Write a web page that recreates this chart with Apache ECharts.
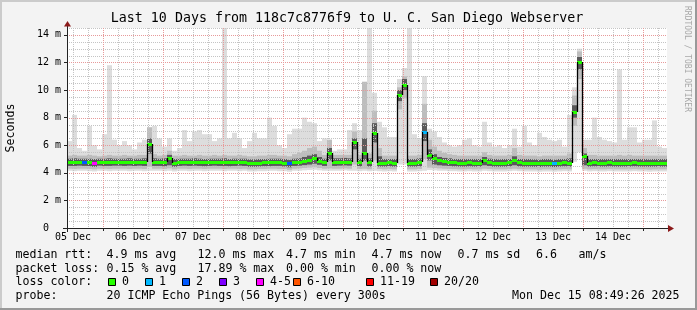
<!DOCTYPE html>
<html><head><meta charset="utf-8">
<script src="https://cdn.jsdelivr.net/npm/echarts@6/dist/echarts.min.js"></script>
<style>html,body{margin:0;padding:0;background:#f3f3f3}#c{width:697px;height:310px}</style>
</head><body><div id="c"></div>
<script>
// ---------------- data ----------------
const SLOT_HOURS = 2;            // each value covers 2 hours; 120 slots = 10 days
const FIRST_MIDNIGHT = 14.4;     // hours after the start of the plot
const dayLabels = ['05 Dec','06 Dec','07 Dec','08 Dec','09 Dec','10 Dec','11 Dec','12 Dec','13 Dec','14 Dec'];
const yTicks = [0,2,4,6,8,10,12,14];

// median rtt (ms)
const median = [
 4.78,4.78,4.80,4.78,4.76,4.72,4.80,4.78,4.78,4.80,
 4.80,4.78,4.80,4.78,4.80,4.78,6.10,4.78,4.78,4.76,
 5.05,4.72,4.78,4.80,4.78,4.80,4.78,4.76,4.78,4.80,
 4.78,4.78,4.76,4.78,4.80,4.78,4.72,4.72,4.74,4.76,
 4.76,4.78,4.78,4.74,4.68,4.78,4.80,4.86,4.92,5.05,
 4.88,4.78,5.45,4.78,4.80,4.82,4.80,6.25,4.75,5.45,
 4.75,6.86,4.73,4.73,4.75,4.73,9.63,10.40,4.73,4.73,
 4.75,6.93,5.30,5.05,4.92,4.85,4.80,4.75,4.73,4.73,
 4.75,4.73,4.73,4.95,4.78,4.73,4.72,4.73,4.75,4.92,
 4.75,4.73,4.73,4.72,4.70,4.73,4.73,4.70,4.73,4.75,
 4.73,8.40,12.00,5.20,4.73,4.75,4.73,4.73,4.75,4.73,
 4.72,4.73,4.73,4.75,4.73,4.73,4.72,4.73,4.73,4.73
];
// slowest ping (top of the light smoke)
const pingMax = [
 6.3,8.2,5.8,5.6,7.4,6.0,5.7,6.8,11.8,6.4,
 6.0,6.3,6.0,5.7,6.2,6.4,7.3,7.4,6.5,5.9,
 6.5,5.6,5.8,7.1,6.3,7.0,7.1,6.8,6.8,6.3,
 6.5,14.5,6.5,6.9,6.5,5.8,6.3,6.9,6.5,6.5,
 8.0,7.4,6.0,5.8,6.8,7.2,7.2,8.0,7.7,7.6,
 6.3,6.5,6.4,5.6,5.7,5.7,7.1,7.6,7.1,10.6,
 14.5,9.8,7.7,7.3,6.6,6.6,10.8,11.6,14.5,6.8,
 6.5,11.0,7.2,7.0,6.6,6.2,6.0,5.9,6.0,6.4,
 6.5,6.0,5.9,7.7,6.2,5.9,6.0,5.8,6.0,7.2,
 5.9,7.4,6.2,6.0,6.9,6.6,6.4,6.3,6.4,5.9,
 8.2,10.2,13.0,6.4,6.4,8.0,6.6,6.4,6.3,6.2,
 11.5,6.4,7.3,7.3,6.2,6.4,6.4,7.8,5.9,5.8
];
// fastest ping (bottom of the light smoke)
const pingMin = [
 4.15,4.12,4.15,4.15,4.12,4.10,4.15,4.15,4.12,4.15,
 4.15,4.15,4.12,4.15,4.15,4.12,4.15,4.15,4.15,4.12,
 4.15,4.10,4.15,4.15,4.12,4.15,4.15,4.12,4.15,4.15,
 4.15,4.12,4.15,4.15,4.12,4.15,4.10,4.10,4.12,4.12,
 4.15,4.15,4.12,4.12,4.08,4.15,4.15,4.18,4.20,4.22,
 4.18,4.15,4.15,4.15,4.15,4.18,4.15,4.15,4.12,4.15,
 4.12,4.15,4.12,4.10,4.12,4.10,4.60,4.60,4.10,4.10,
 4.12,4.15,4.20,4.18,4.15,4.15,4.12,4.12,4.10,4.10,
 4.12,4.10,4.10,4.15,4.12,4.10,4.10,4.10,4.12,4.15,
 4.12,4.10,4.10,4.10,4.08,4.10,4.10,4.08,4.10,4.12,
 4.10,4.80,5.50,4.15,4.10,4.12,4.10,4.10,4.12,4.10,
 4.10,4.10,4.10,4.12,4.10,4.10,4.08,4.10,4.10,4.10
];
// middle smoke band
const smokeLo = [
 4.30,4.28,4.30,4.30,4.28,4.25,4.30,4.30,4.28,4.30,
 4.30,4.30,4.28,4.30,4.30,4.28,4.45,4.30,4.30,4.28,
 4.32,4.25,4.30,4.30,4.28,4.30,4.30,4.28,4.30,4.30,
 4.30,4.28,4.30,4.30,4.28,4.30,4.25,4.25,4.28,4.28,
 4.30,4.30,4.28,4.28,4.22,4.30,4.32,4.35,4.38,4.40,
 4.35,4.30,4.32,4.30,4.30,4.32,4.30,4.60,4.28,4.30,
 4.26,4.90,4.28,4.25,4.27,4.25,8.60,9.40,4.25,4.25,
 4.28,5.00,4.38,4.35,4.32,4.30,4.28,4.27,4.25,4.25,
 4.27,4.25,4.25,4.30,4.28,4.25,4.25,4.25,4.27,4.30,
 4.27,4.25,4.25,4.25,4.22,4.25,4.25,4.22,4.25,4.27,
 4.25,7.40,10.80,4.30,4.25,4.27,4.25,4.25,4.27,4.25,
 4.25,4.25,4.25,4.27,4.25,4.25,4.23,4.25,4.25,4.25
];
const smokeHi = [
 5.25,5.30,5.25,5.25,5.30,5.25,5.20,5.25,5.30,5.25,
 5.25,5.30,5.25,5.25,5.30,5.30,7.30,5.35,5.25,5.30,
 5.60,5.25,5.25,5.30,5.25,5.25,5.30,5.25,5.25,5.30,
 5.25,5.30,5.25,5.25,5.30,5.25,5.20,5.20,5.25,5.25,
 5.30,5.30,5.25,5.25,5.20,5.35,5.45,5.60,5.80,5.90,
 5.60,5.30,6.40,5.30,5.30,5.30,5.30,7.00,5.30,10.60,
 5.40,8.50,5.80,5.25,5.25,5.25,10.20,11.00,5.25,5.25,
 5.30,9.00,6.40,5.90,5.60,5.45,5.35,5.30,5.25,5.25,
 5.25,5.25,5.25,5.50,5.30,5.25,5.25,5.25,5.30,5.80,
 5.30,5.25,5.25,5.25,5.20,5.25,5.25,5.25,5.25,5.25,
 5.40,9.60,12.80,5.80,5.30,5.30,5.25,5.25,5.25,5.25,
 5.30,5.25,5.30,5.25,5.25,5.25,5.25,5.25,5.25,5.25
];
// dark core of the smoke around the median
const coreLo = [
 4.50,4.50,4.52,4.50,4.48,4.44,4.52,4.50,4.50,4.52,
 4.52,4.50,4.52,4.50,4.52,4.50,5.40,4.50,4.50,4.48,
 4.55,4.44,4.50,4.52,4.50,4.52,4.50,4.48,4.50,4.52,
 4.50,4.50,4.48,4.50,4.52,4.50,4.44,4.44,4.46,4.48,
 4.48,4.50,4.50,4.46,4.40,4.50,4.52,4.56,4.60,4.66,
 4.58,4.50,4.90,4.50,4.52,4.54,4.52,5.70,4.47,4.90,
 4.46,6.20,4.45,4.45,4.47,4.45,9.20,10.00,4.45,4.45,
 4.47,6.30,4.90,4.60,4.55,4.52,4.50,4.47,4.45,4.45,
 4.47,4.45,4.45,4.55,4.50,4.45,4.44,4.45,4.47,4.55,
 4.47,4.45,4.45,4.44,4.42,4.45,4.45,4.42,4.45,4.47,
 4.45,8.00,11.50,4.55,4.45,4.47,4.45,4.45,4.47,4.45,
 4.44,4.45,4.45,4.47,4.45,4.45,4.44,4.45,4.45,4.45
];
const coreHi = [
 5.02,5.05,5.02,5.02,5.02,5.00,5.02,5.02,5.05,5.02,
 5.02,5.02,5.05,5.02,5.02,5.05,6.50,5.05,5.02,5.05,
 5.30,5.00,5.02,5.02,5.02,5.05,5.02,5.00,5.02,5.02,
 5.02,5.05,5.00,5.02,5.02,5.02,4.98,4.98,5.00,5.00,
 5.02,5.02,5.02,5.00,4.95,5.02,5.05,5.15,5.25,5.35,
 5.15,5.02,5.80,5.05,5.05,5.08,5.05,6.50,5.02,6.50,
 5.05,7.60,5.20,5.00,5.00,5.00,10.00,10.80,5.00,5.00,
 5.05,7.60,5.70,5.35,5.15,5.08,5.05,5.00,5.00,5.00,
 5.00,5.00,5.00,5.15,5.02,5.00,4.98,5.00,5.00,5.20,
 5.00,5.00,5.00,4.98,4.96,5.00,5.00,4.96,5.00,5.00,
 5.05,8.90,12.40,5.40,5.00,5.00,5.00,5.00,5.00,5.00,
 5.00,5.00,5.00,5.00,5.00,5.00,4.98,5.00,5.00,5.00
];
// slots whose median is drawn in a loss colour (index into lossColors)
const lossSlots  = [3, 5, 44, 71, 97];
const lossLevels = [2, 4, 2, 1, 1];
const lossLabels = ['0','1','2','3','4-5','6-10','11-19','20/20'];
const lossColors = ['#26ff00','#00b8ff','#0059ff','#7e00ff','#ff00ff','#ff5500','#ff0000','#a10000'];

const titleText = 'Last 10 Days from 118c7c8776f9 to U. C. San Diego Webserver';
const rttStats  = ['4.9 ms avg','12.0 ms max','4.7 ms min','4.7 ms now','0.7 ms sd','6.6','am/s'];
const lossStats = ['0.15 % avg','17.89 % max','0.00 % min','0.00 % now'];
const probeText = '20 ICMP Echo Pings (56 Bytes) every 300s';
const stampText = 'Mon Dec 15 08:49:26 2025';

// ---------------- layout ----------------
const MONO = '"DejaVu Sans Mono", monospace';
const LF = '11.6px ' + MONO;
const rttX  = [106.5,197.5,286,371.5,457.5,536,578.5];
const lossX = [106.5,197.5,286,371.5];
const boxX  = [108,145,182,219,256,293,366,430];
const ROW = [254.5,268.5,282,296];

const NSLOT = median.length;
const TOTAL_H = NSLOT * SLOT_HOURS;
const midnights = [], noons = [], minorV = [];
for (let h = FIRST_MIDNIGHT - 12; h < TOTAL_H; h += 6) {
  const k = Math.round((h - FIRST_MIDNIGHT) / 6);
  if (((k % 4) + 4) % 4 === 0) midnights.push(+h.toFixed(2)); else minorV.push(+h.toFixed(2));
}
for (let d = 0; d < dayLabels.length; d++) noons.push(+(FIRST_MIDNIGHT - 12 + 24 * d).toFixed(2));
const minorH = [], majorH = [];
for (let v = 0.5; v <= 14.5; v += 0.5) { if (v % 2 === 0) majorH.push(v); else minorH.push(v); }

const lossOf = i => { const k = lossSlots.indexOf(i); return k < 0 ? 0 : lossLevels[k]; };

function bandRows(lo, hi) { return lo.map((v, i) => [i * SLOT_HOURS, (i + 1) * SLOT_HOURS, v, hi[i]]); }
function bandRender(color) {
  return function (params, api) {
    const a = api.coord([api.value(0), api.value(3)]);
    const b = api.coord([api.value(1), api.value(2)]);
    return { type: 'rect', shape: { x: a[0], y: a[1], width: b[0] - a[0], height: b[1] - a[1] }, style: { fill: color } };
  };
}
function bandSeries(lo, hi, color, z) {
  return { type: 'custom', z: z, silent: true, clip: true, renderItem: bandRender(color),
    encode: { x: [0, 1], y: [2, 3] }, data: bandRows(lo, hi) };
}
function vGrid(list, color, z) {
  return { type: 'custom', z: z, silent: true, data: list.map(h => [h, 0]), encode: { x: 0, y: 1 },
    renderItem: function (params, api) {
      const cs = params.coordSys;
      const x = Math.round(api.coord([api.value(0), 0])[0]) + 0.5;
      return { type: 'line', shape: { x1: x, y1: cs.y, x2: x, y2: cs.y + cs.height },
        style: { stroke: color, lineWidth: 1, lineDash: [1, 1] } };
    } };
}
function hGrid(list, color, z) {
  return { type: 'custom', z: z, silent: true, data: list.map(v => [0, v]), encode: { x: 0, y: 1 },
    renderItem: function (params, api) {
      const cs = params.coordSys;
      const y = Math.round(api.coord([0, api.value(1)])[1]) + 0.5;
      return { type: 'line', shape: { x1: cs.x, y1: y, x2: cs.x + cs.width, y2: y },
        style: { stroke: color, lineWidth: 1, lineDash: [1, 1] } };
    } };
}
const medianRows = median.map((m, i) => [i * SLOT_HOURS, (i + 1) * SLOT_HOURS, m, i > 0 ? median[i - 1] : m, lossOf(i)]);
const medianSeries = {
  type: 'custom', z: 5, silent: true, clip: true, data: medianRows, encode: { x: [0, 1], y: 2 },
  renderItem: function (params, api) {
    const x0 = api.coord([api.value(0), 0])[0], x1 = api.coord([api.value(1), 0])[0];
    const y = Math.round(api.coord([0, api.value(2)])[1]);
    const yp = Math.round(api.coord([0, api.value(3)])[1]);
    const kids = [{ type: 'rect', shape: { x: x0, y: y - 1, width: x1 - x0, height: 3 }, style: { fill: lossColors[api.value(4)] } }];
    if (Math.abs(y - yp) > 2) kids.push({ type: 'line', shape: { x1: x0 + 0.5, y1: yp, x2: x0 + 0.5, y2: y }, style: { stroke: '#000', lineWidth: 1.3 } });
    return { type: 'group', children: kids };
  }
};

// ---------------- graphic (frame, texts, legend) ----------------
const G = [];
G.push({ type: 'rect', z: 0, shape: { x: 0, y: 0, width: 697, height: 2 }, style: { fill: '#cbcbcb' } });
G.push({ type: 'rect', z: 0, shape: { x: 0, y: 0, width: 2, height: 310 }, style: { fill: '#cbcbcb' } });
G.push({ type: 'rect', z: 0, shape: { x: 0, y: 308, width: 697, height: 2 }, style: { fill: '#999999' } });
G.push({ type: 'rect', z: 0, shape: { x: 695, y: 0, width: 2, height: 310 }, style: { fill: '#999999' } });
function txt(s, x, y, font, opt) {
  const o = Object.assign({ align: 'left', fill: '#000' }, opt || {});
  return { type: 'text', z: 10, x: x, y: y, rotation: o.rotation || 0,
    style: { text: s, font: font, fill: o.fill, align: o.align, verticalAlign: 'middle' } };
}
G.push(txt(titleText, 347, 19, '13.3px ' + MONO, { align: 'center' }));
G.push(txt('Seconds', 10.5, 128, LF, { align: 'center', rotation: Math.PI / 2 }));
G.push(txt('RRDTOOL / TOBI OETIKER', 687.5, 59, '8px ' + MONO, { align: 'center', rotation: -Math.PI / 2, fill: '#a8a8a8' }));
G.push(txt('median rtt:', 15.5, ROW[0], LF));
rttStats.forEach((s, i) => G.push(txt(s, rttX[i], ROW[0], LF)));
G.push(txt('packet loss:', 15.5, ROW[1], LF));
lossStats.forEach((s, i) => G.push(txt(s, lossX[i], ROW[1], LF)));
G.push(txt('loss color:', 15.5, ROW[2], LF));
lossLabels.forEach((s, i) => {
  G.push({ type: 'rect', z: 10, shape: { x: boxX[i] + 0.5, y: 278.5, width: 7, height: 7 }, style: { fill: lossColors[i], stroke: '#000', lineWidth: 1 } });
  G.push(txt(s, boxX[i] + 14, ROW[2], LF));
});
G.push(txt('probe:', 15.5, ROW[3], LF));
G.push(txt(probeText, 106.5, ROW[3], LF));
G.push(txt(stampText, 512, ROW[3], LF));
// axis extensions and arrows
G.push({ type: 'line', z: 10, shape: { x1: 63, y1: 228.5, x2: 669, y2: 228.5 }, style: { stroke: '#222', lineWidth: 1 } });
G.push({ type: 'line', z: 10, shape: { x1: 67.5, y1: 232, x2: 67.5, y2: 25 }, style: { stroke: '#222', lineWidth: 1 } });
G.push({ type: 'polygon', z: 11, shape: { points: [[64, 26.5], [71, 26.5], [67.5, 21]] }, style: { fill: '#8b1a1a' } });
G.push({ type: 'polygon', z: 11, shape: { points: [[668, 225], [668, 232], [674, 228.5]] }, style: { fill: '#8b1a1a' } });

// ---------------- chart ----------------
const chart = echarts.init(document.getElementById('c'), null, { renderer: 'canvas' });
chart.setOption({
  animation: false,
  backgroundColor: '#f3f3f3',
  grid: { left: 67, top: 28, width: 600, height: 200, show: true, backgroundColor: '#ffffff', borderWidth: 0 },
  xAxis: {
    type: 'value', min: 0, max: TOTAL_H,
    axisLine: { show: false },
    axisTick: { show: true, customValues: midnights, length: 3, lineStyle: { color: '#222' } },
    axisLabel: { show: true, customValues: noons, margin: 4, color: '#000', fontFamily: MONO, fontSize: 10,
      formatter: v => dayLabels[Math.round((v - noons[0]) / 24)] },
    splitLine: { show: false }
  },
  yAxis: {
    type: 'value', min: 0, max: 14.5, interval: 2,
    axisLine: { show: false },
    axisTick: { show: true, length: 3, lineStyle: { color: '#222' } },
    axisLabel: { showMaxLabel: false, margin: 6, color: '#000', fontFamily: MONO, fontSize: 10,
      formatter: v => (v === 0 ? '0  ' : v + ' m') },
    splitLine: { show: false }
  },
  series: [
    bandSeries(pingMin, pingMax, '#dddddd', 1),
    bandSeries(smokeLo, smokeHi, '#bdbdbd', 2),
    bandSeries(coreLo, coreHi, '#5a5a5a', 3),
    vGrid(minorV, '#c4c4c4', 4),
    hGrid(minorH, '#c4c4c4', 4),
    vGrid(midnights, '#e79a9a', 4),
    hGrid(majorH, '#e79a9a', 4),
    medianSeries
  ],
  graphic: G
});
</script></body></html>
